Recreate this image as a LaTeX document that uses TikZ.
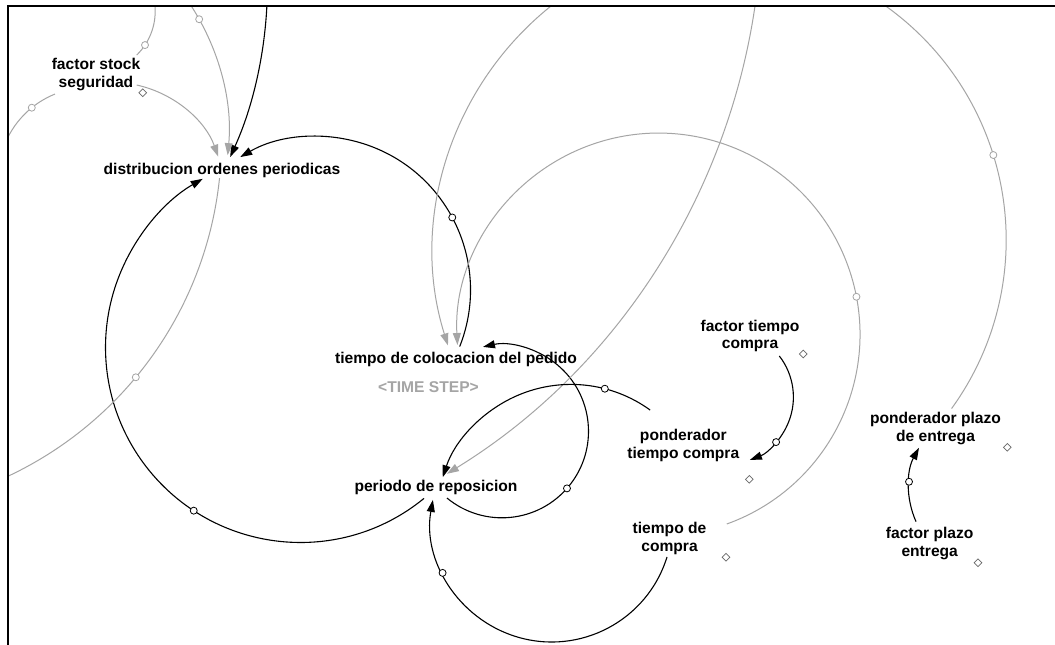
\documentclass[tikz,border=0pt]{standalone}
\usepackage{fontspec}
\setmainfont{Liberation Sans}
\usetikzlibrary{arrows.meta,shapes.geometric}
\definecolor{linkgray}{RGB}{165,165,165}
\definecolor{markgray}{RGB}{105,105,105}
\begin{document}
\begin{tikzpicture}[x=1pt,y=-1pt,
  var/.style={font=\bfseries\fontsize{15.6}{17.5}\selectfont, align=center, inner sep=0pt, text=black},
  shadowvar/.style={var, text=linkgray},
  blk/.style={draw=black, line width=1.1pt},
  gry/.style={draw=linkgray, line width=1pt},
  head/.style={-{Triangle[length=12pt,width=8pt]}},
  hdl/.style={circle, draw, fill=white, inner sep=0pt, minimum size=7pt, line width=0.8pt},
  dmd/.style={diamond, draw=markgray, fill=white, inner sep=0pt, minimum size=8pt, line width=0.7pt},
]
\useasboundingbox (0,0) rectangle (1055,645);
\fill[white] (0,0) rectangle (1055,645);

% variables
\node[var] (fss) at (96,74.7) {factor stock\\seguridad};
\node[var, anchor=base] (dop) at (222,174) {distribucion ordenes periodicas};
\node[var, anchor=base] (tcp) at (456,363) {tiempo de colocacion del pedido};
\node[shadowvar, anchor=base] (ts) at (428.5,392.5) {<TIME STEP>};
\node[var, anchor=base] (pr) at (436,491.5) {periodo de reposicion};
\node[var] (ftc) at (750,335.8) {factor tiempo\\compra};
\node[var] (ptc) at (683.3,445.5) {ponderador\\tiempo compra};
\node[var] (tc) at (669.5,538.3) {tiempo de\\compra};
\node[var] (ppe) at (935.5,428.5) {ponderador plazo\\de entrega};
\node[var] (fpe) at (929.7,543.7) {factor plazo\\entrega};

% centres of the circular links
\coordinate (c1) at (-147.6,-14.8);
\coordinate (c2) at (-6.8,133.4);
\coordinate (c3) at (112.6,194.7);
\coordinate (c4) at (94.2,11.3);
\coordinate (c5) at (88.8,178.1);
\coordinate (c6) at (317,290);
\coordinate (c7) at (300.5,347.5);
\coordinate (c8) at (747.4,251);
\coordinate (c9) at (-150,140);
\coordinate (c10) at (658.6,334.5);
\coordinate (c11) at (100,-90);
\coordinate (c12) at (718.8,240);
\coordinate (c13) at (726.3,397.1);
\coordinate (c14) at (992.2,487.7);
\coordinate (c15) at (571,519.4);
\coordinate (c16) at (502,431.3);
\coordinate (c17) at (551.7,521.3);

\begin{scope}
\clip (8.7,6.7) rectangle (1055,645);
% links into distribucion ordenes periodicas
\draw[blk,head] ([shift={(2:415)}]c1) arc[start angle=2, end angle=24.46, radius=415];
\draw[gry,head] ([shift={(-36:235.5)}]c2) arc[start angle=-36, end angle=5.3, radius=235.5];
\draw[gry,head] ([shift={(-77.6:112.3)}]c3) arc[start angle=-77.6, end angle=-19.8, radius=112.3];
\draw[blk,head] ([shift={(21.6:153.5)}]c6) arc[start angle=21.6, end angle=-120, radius=153.5];
\draw[blk,head] ([shift={(50.7:195)}]c7) arc[start angle=50.7, end angle=239.9, radius=195];
% links leaving factor stock seguridad and distribucion ordenes periodicas
\draw[gry] ([shift={(45.8:61)}]c4) arc[start angle=45.8, end angle=-8, radius=61];
\draw[gry] ([shift={(248.1:90.6)}]c5) arc[start angle=248.1, end angle=200, radius=90.6];
\draw[gry] ([shift={(5.9:371.5)}]c9) arc[start angle=5.9, end angle=68, radius=371.5];
% links into tiempo de colocacion del pedido
\draw[gry,head] ([shift={(-126:314)}]c8) arc[start angle=-126, end angle=-197.5, radius=314];
\draw[gry,head] ([shift={(70.2:201.4)}]c10) arc[start angle=70.2, end angle=-183, radius=201.4];
\draw[blk,head] ([shift={(129.5:86.5)}]c16) arc[start angle=129.5, end angle=-102.7, radius=86.5];
% links into periodo de reposicion
\draw[gry,head] ([shift={(7:662)}]c11) arc[start angle=7, end angle=58.4, radius=662];
\draw[blk,head] ([shift={(-54.1:135)}]c15) arc[start angle=-54.1, end angle=-161.8, radius=135];
\draw[blk,head] ([shift={(17.2:120.7)}]c17) arc[start angle=17.2, end angle=190.2, radius=120.7];
% weighting links
\draw[gry] ([shift={(35.9:287.4)}]c12) arc[start angle=35.9, end angle=-60, radius=287.4];
\draw[blk,head] ([shift={(-37.8:67.1)}]c13) arc[start angle=-37.8, end angle=69.4, radius=67.1];
\draw[blk,head] ([shift={(156:83.4)}]c14) arc[start angle=156, end angle=208.6, radius=83.4];

% link handles
\node[hdl, draw=linkgray] (h2) at ([shift={(-29:235.5)}]c2) {};
\node[hdl, draw=linkgray] (h4) at ([shift={(33.6:61)}]c4) {};
\node[hdl, draw=linkgray] (h5) at ([shift={(231:90.6)}]c5) {};
\node[hdl] (h6) at ([shift={(-28.2:153.5)}]c6) {};
\node[hdl] (h7) at ([shift={(123.2:195)}]c7) {};
\node[hdl, draw=linkgray] (h9) at ([shift={(39.7:371.5)}]c9) {};
\node[hdl, draw=linkgray] (h10) at ([shift={(-10.8:201.4)}]c10) {};
\node[hdl, draw=linkgray] (h12) at ([shift={(-17.2:287.4)}]c12) {};
\node[hdl] (h13) at ([shift={(42.1:67.1)}]c13) {};
\node[hdl] (h14) at ([shift={(184.1:83.4)}]c14) {};
\node[hdl] (h15) at ([shift={(-75.5:135)}]c15) {};
\node[hdl] (h16) at ([shift={(41.3:86.5)}]c16) {};
\node[hdl] (h17) at ([shift={(154.7:120.7)}]c17) {};
\end{scope}

% constant markers
\node[dmd] (d1) at (142.7,92.7) {};
\node[dmd] (d2) at (803.3,354) {};
\node[dmd] (d3) at (749.3,479.3) {};
\node[dmd] (d4) at (726,557.3) {};
\node[dmd] (d5) at (1007.3,447.3) {};
\node[dmd] (d6) at (978,562.7) {};

% window frame
\draw[line width=2pt] (7.7,645) -- (7.7,5.7) -- (1055,5.7);
\end{tikzpicture}
\end{document}
